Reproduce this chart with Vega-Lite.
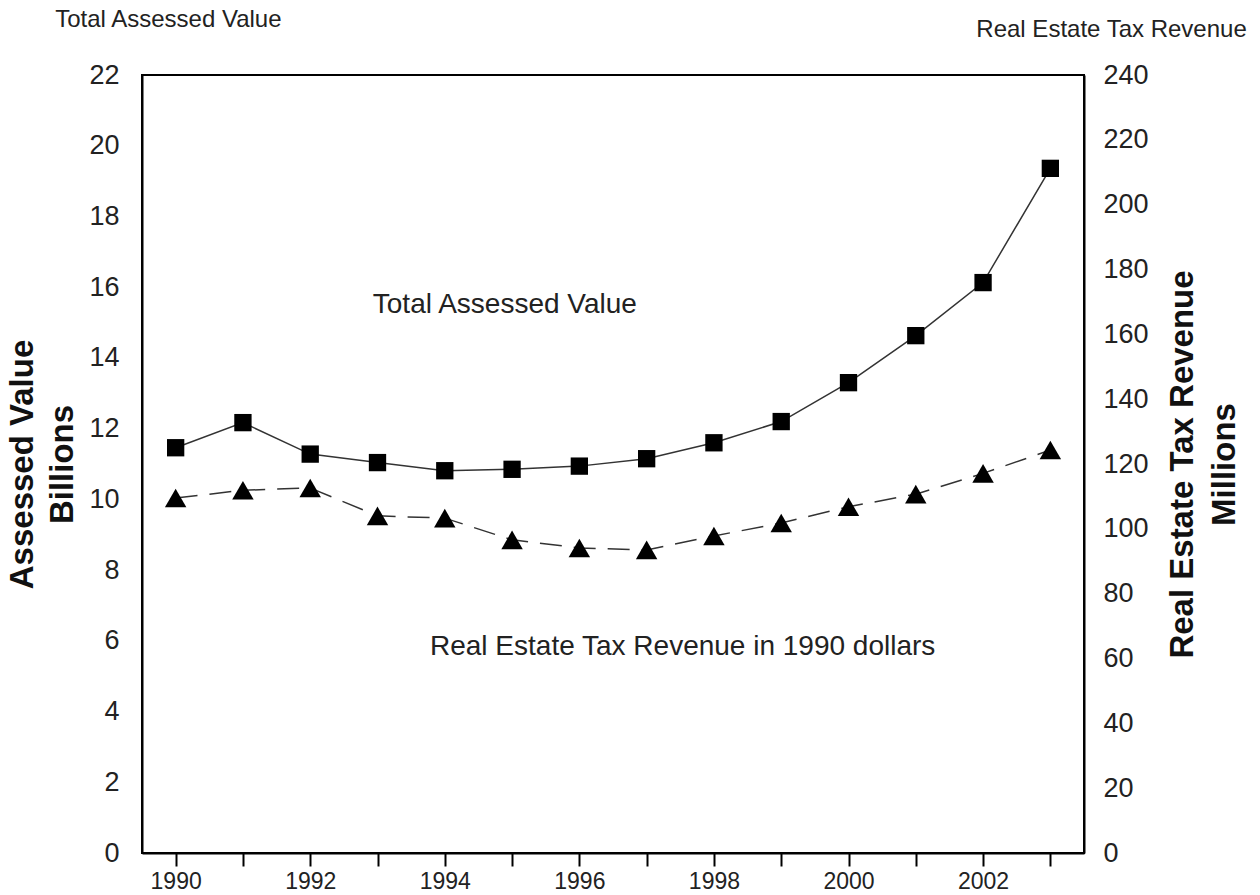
{
  "$schema": "https://vega.github.io/schema/vega-lite/v6.json",
  "width": 942,
  "height": 778,
  "autosize": {"type": "none"},
  "padding": {"left": 142, "top": 75, "right": 176, "bottom": 42},
  "background": "white",
  "config": {
    "font": "Liberation Sans",
    "view": {"stroke": "black", "strokeWidth": 2},
    "axis": {"grid": false, "domainColor": "black", "domainWidth": 2, "labelColor": "#222", "tickColor": "black", "titleColor": "#111"}
  },
  "datasets": {
    "series": [
      {"year": 1990, "assessed": 11.46, "revenue": 109.5},
      {"year": 1991, "assessed": 12.17, "revenue": 111.9},
      {"year": 1992, "assessed": 11.28, "revenue": 112.6},
      {"year": 1993, "assessed": 11.04, "revenue": 104.0},
      {"year": 1994, "assessed": 10.81, "revenue": 103.3},
      {"year": 1995, "assessed": 10.85, "revenue": 96.6},
      {"year": 1996, "assessed": 10.94, "revenue": 94.1},
      {"year": 1997, "assessed": 11.15, "revenue": 93.5},
      {"year": 1998, "assessed": 11.60, "revenue": 97.8},
      {"year": 1999, "assessed": 12.20, "revenue": 101.8},
      {"year": 2000, "assessed": 13.30, "revenue": 106.8},
      {"year": 2001, "assessed": 14.63, "revenue": 110.7},
      {"year": 2002, "assessed": 16.13, "revenue": 117.1},
      {"year": 2003, "assessed": 19.36, "revenue": 124.3}
    ],
    "notesPlot": [
      {"year": 1992.93, "assessed": 15.5, "label": "Total Assessed Value"},
      {"year": 1993.78, "assessed": 5.83, "label": "Real Estate Tax Revenue in 1990 dollars"}
    ],
    "notesTop": [
      {"year": 1988.21, "assessed": 23.55, "label": "Total Assessed Value"},
      {"year": 2001.9, "assessed": 23.26, "label": "Real Estate Tax Revenue"}
    ]
  },
  "encoding": {
    "x": {
      "field": "year",
      "type": "quantitative",
      "scale": {"domain": [1989.5, 2003.5], "nice": false, "zero": false},
      "axis": {
        "title": null,
        "values": [1990, 1991, 1992, 1993, 1994, 1995, 1996, 1997, 1998, 1999, 2000, 2001, 2002, 2003],
        "labelExpr": "datum.value % 2 === 0 ? '' + datum.value : ''",
        "tickSize": 13,
        "tickWidth": 2,
        "labelFontSize": 23,
        "labelPadding": 4,
        "labelFlush": false,
        "labelOverlap": false
      }
    }
  },
  "layer": [
    {
      "encoding": {
        "y": {
          "field": "assessed",
          "type": "quantitative",
          "scale": {"domain": [0, 22], "nice": false},
          "axis": {
            "orient": "left",
            "title": ["Assessed Value", "Billions"],
            "titleFontSize": 33,
            "titleFontWeight": "bold",
            "titleAngle": -90,
            "titleX": -110,
            "titleY": 389,
            "titleBaseline": "alphabetic",
            "titleAlign": "center",
            "titleLineHeight": 40,
            "values": [0, 2, 4, 6, 8, 10, 12, 14, 16, 18, 20, 22],
            "ticks": false,
            "tickSize": 0,
            "labelFontSize": 27,
            "labelPadding": 23
          }
        }
      },
      "layer": [
        {"data": {"name": "series"}, "mark": {"type": "line", "color": "#333", "strokeWidth": 1.5}},
        {"data": {"name": "series"}, "mark": {"type": "point", "shape": "square", "filled": true, "color": "black", "size": 300, "opacity": 1}},
        {"data": {"name": "notesPlot"}, "mark": {"type": "text", "align": "left", "baseline": "middle", "fontSize": 28, "color": "#222"}, "encoding": {"text": {"field": "label"}}},
        {"data": {"name": "notesTop"}, "mark": {"type": "text", "align": "left", "baseline": "middle", "fontSize": 24, "color": "#222"}, "encoding": {"text": {"field": "label"}}}
      ]
    },
    {
      "data": {"name": "series"},
      "encoding": {
        "y": {
          "field": "revenue",
          "type": "quantitative",
          "scale": {"domain": [0, 240], "nice": false},
          "axis": {
            "orient": "right",
            "title": ["Real Estate Tax Revenue", "Millions"],
            "titleFontSize": 33,
            "titleFontWeight": "bold",
            "titleAngle": -90,
            "titleX": 108,
            "titleY": 389,
            "titleBaseline": "alphabetic",
            "titleAlign": "center",
            "titleLineHeight": 42,
            "values": [0, 20, 40, 60, 80, 100, 120, 140, 160, 180, 200, 220, 240],
            "ticks": false,
            "tickSize": 0,
            "labelFontSize": 27,
            "labelPadding": 19
          }
        }
      },
      "layer": [
        {"mark": {"type": "line", "color": "#333", "strokeWidth": 1.5, "strokeDash": [22, 12]}},
        {"mark": {"type": "point", "shape": "triangle-up", "filled": true, "color": "black", "size": 460, "opacity": 1}}
      ]
    }
  ],
  "resolve": {"scale": {"y": "independent"}}
}
